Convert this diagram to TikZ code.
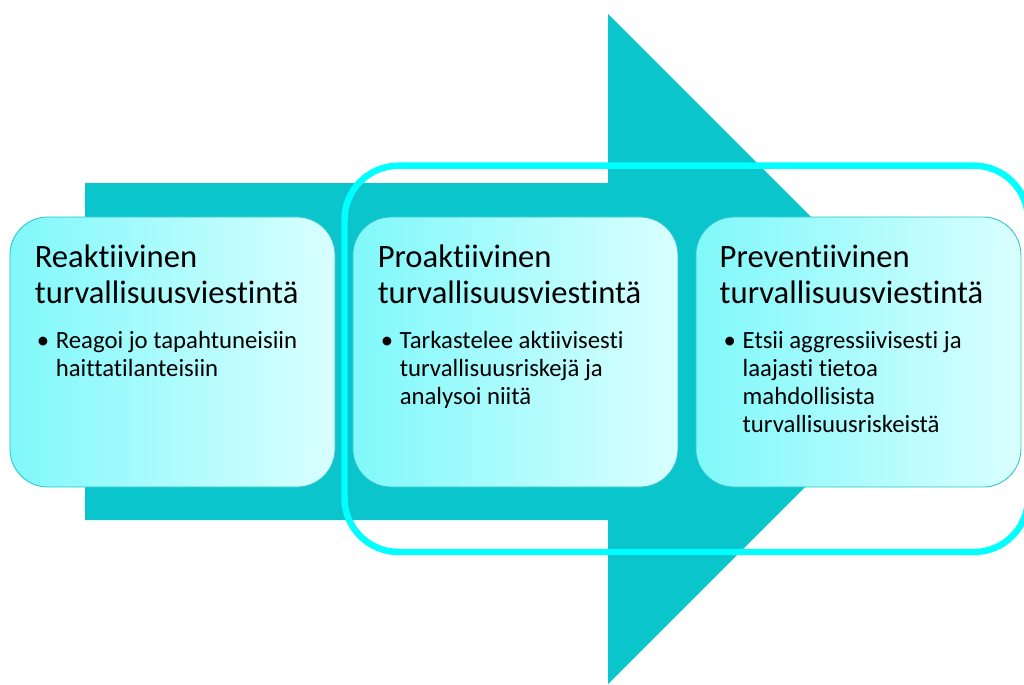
\documentclass[tikz,border=0pt]{standalone}
\usepackage{fontspec}
\setmainfont{Carlito}[Ligatures=NoCommon]
\usetikzlibrary{positioning}

\definecolor{arrowteal}{RGB}{11,197,205}
\definecolor{ringcyan}{RGB}{0,255,255}
\definecolor{boxleft}{RGB}{128,248,250}
\definecolor{boxright}{RGB}{218,255,255}
\definecolor{boxedge}{RGB}{40,196,206}

\tikzset{
	stagebox/.style={draw=boxedge, line width=0.6pt, rounded corners=0.95cm, left color=boxleft, right color=boxright, minimum width=8.125cm, minimum height=6.75cm, inner sep=0pt},
	stagetitle/.style={anchor=base west, inner sep=0pt, font=\fontsize{23.2}{25.2}\selectfont},
	stagetext/.style={anchor=base west, inner sep=0pt, font=\fontsize{17.6}{20}\selectfont}
}

\begin{document}
\begin{tikzpicture}[x=0.025cm, y=-0.025cm]
	\useasboundingbox (0,0) rectangle (1024,684);
	% big arrow behind
	\fill[arrowteal] (85,183) -- (608,183) -- (608,14) -- (943,349) -- (608,684) -- (608,520) -- (85,520) -- cycle;
	\draw[ringcyan, line width=4.6pt, rounded corners=1.35cm] (344.5,165.7) rectangle (1028,552);
	% the three stages
	\node[stagebox] (reak) at (172.5,352) {};
	\node[stagebox, right=0.425cm of reak] (proak) {};
	\node[stagebox, right=0.425cm of proak] (prev) {};
	\node[stagetitle] (reakT) at ([xshift=0.625cm, yshift=-1.28cm]reak.north west) {\begin{tabular}[t]{@{}l@{}}Reaktiivinen\\turvallisuusviestintä\end{tabular}};
	\node[stagetitle] (proakT) at ([xshift=0.625cm, yshift=-1.28cm]proak.north west) {\begin{tabular}[t]{@{}l@{}}Proaktiivinen\\turvallisuusviestintä\end{tabular}};
	\node[stagetitle] (prevT) at ([xshift=0.6cm, yshift=-1.28cm]prev.north west) {\begin{tabular}[t]{@{}l@{}}Preventiivinen\\turvallisuusviestintä\end{tabular}};
	\node[stagetext] (reakB) at ([xshift=0.675cm, yshift=-3.3cm]reak.north west) {\begin{tabular}[t]{@{}p{0.475cm}@{}l@{}}\textbullet & Reagoi jo tapahtuneisiin\\ & haittatilanteisiin\end{tabular}};
	\node[stagetext] (proakB) at ([xshift=0.7cm, yshift=-3.3cm]proak.north west) {\begin{tabular}[t]{@{}p{0.475cm}@{}l@{}}\textbullet & Tarkastelee aktiivisesti\\ & turvallisuusriskejä ja\\ & analysoi niitä\end{tabular}};
	\node[stagetext] (prevB) at ([xshift=0.7cm, yshift=-3.3cm]prev.north west) {\begin{tabular}[t]{@{}p{0.475cm}@{}l@{}}\textbullet & Etsii aggressiivisesti ja\\ & laajasti tietoa\\ & mahdollisista\\ & turvallisuusriskeistä\end{tabular}};
\end{tikzpicture}
\end{document}
